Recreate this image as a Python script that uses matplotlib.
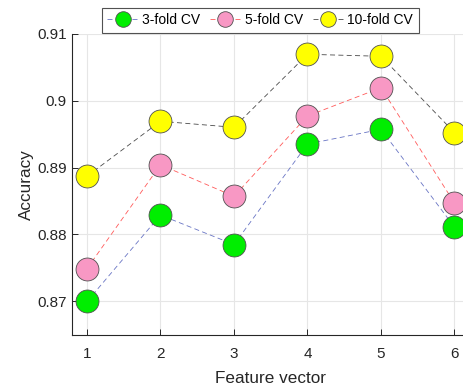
import matplotlib
matplotlib.use("Agg")
import matplotlib.pyplot as plt

plt.rcParams['font.family'] = ['Liberation Sans', 'DejaVu Sans']

features = [1, 2, 3, 4, 5, 6]
acc_3fold = [0.8700, 0.8829, 0.8785, 0.8935, 0.8957, 0.8811]
acc_5fold = [0.8749, 0.8904, 0.8857, 0.8977, 0.9019, 0.8847]
acc_10fold = [0.8887, 0.8969, 0.8960, 0.9069, 0.9066, 0.8952]
labels = ['3-fold CV', '5-fold CV', '10-fold CV']

fig = plt.figure(figsize=(4.64, 3.87), dpi=100)
ax = fig.add_axes([0.1558, 0.1344, 0.8554, 0.779])

styles = [('#6874c4', '#00ee00'), ('#ff5a5a', '#f898c4'), ('#4a4a4a', '#ffff00')]
for ys, lab, (lc, fc) in zip([acc_3fold, acc_5fold, acc_10fold], labels, styles):
    ax.plot(features, ys, linestyle=(0, (6, 4)), color=lc, linewidth=0.6,
            marker='o', markersize=16.5, markerfacecolor=fc,
            markeredgecolor='#505050', markeredgewidth=0.6, label=lab,
            clip_on=False)

ax.set_xlim(0.8, 6.2)
ax.set_ylim(0.865, 0.91)
ax.set_xticks(features)
ax.set_yticks([0.87, 0.88, 0.89, 0.90, 0.91])
ax.set_yticklabels(['0.87', '0.88', '0.89', '0.9', '0.91'])
ax.grid(True, color='#e6e6e6', linewidth=0.8)
ax.set_axisbelow(True)
for s in ['top', 'right']:
    ax.spines[s].set_visible(False)
for s in ['left', 'bottom']:
    ax.spines[s].set_color('#262626')
    ax.spines[s].set_linewidth(0.8)
ax.tick_params(direction='in', length=4, width=0.7, color='#262626',
               labelsize=11, labelcolor='#262626')
ax.tick_params(axis='x', pad=9)
ax.tick_params(axis='y', pad=4)
ax.set_xlabel('Feature vector', fontsize=12.3, color='#262626', labelpad=7)
ax.set_ylabel('Accuracy', fontsize=12.3, color='#262626', labelpad=2)

leg = fig.legend(loc='center', bbox_to_anchor=(0.561, 0.948), ncol=3,
                 fontsize=10, frameon=True, fancybox=False, handlelength=2.2,
                 columnspacing=0.7, handletextpad=0.3, borderpad=0.4,
                 borderaxespad=0.2, markerscale=0.68)
leg.get_frame().set_edgecolor('#262626')
leg.get_frame().set_linewidth(0.8)

fig.savefig('out.png', dpi=100)
